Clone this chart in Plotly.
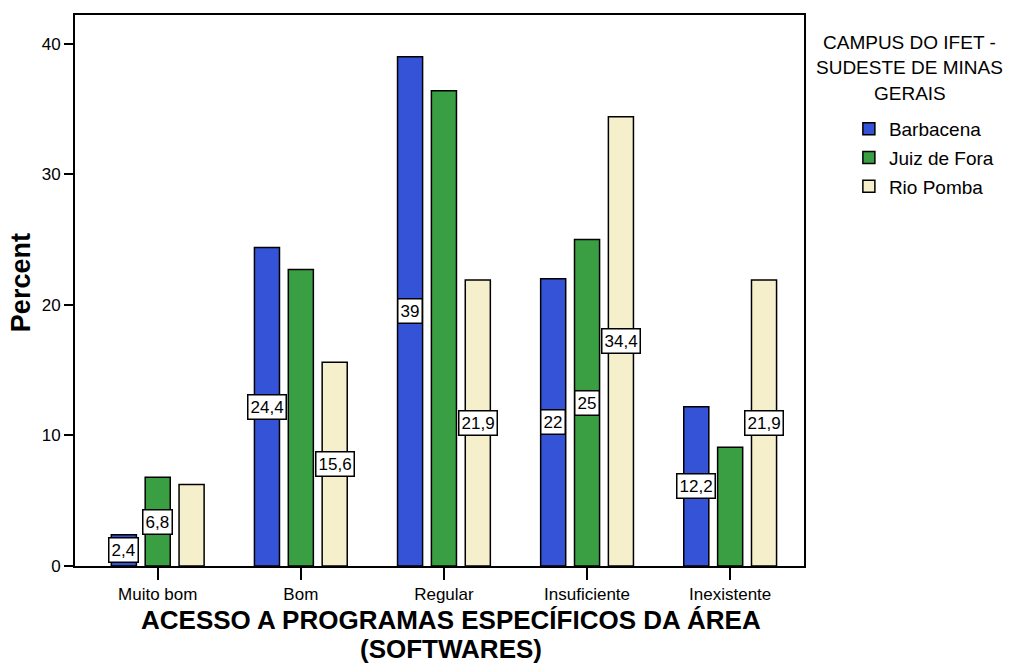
import plotly.graph_objects as go

categories = ["Muito bom", "Bom", "Regular", "Insuficiente", "Inexistente"]
series_names = ["Barbacena", "Juiz de Fora", "Rio Pomba"]
barbacena = [2.4, 24.4, 39.0, 22.0, 12.2]
juiz_de_fora = [6.8, 22.7, 36.4, 25.0, 9.1]
rio_pomba = [6.25, 15.6, 21.9, 34.4, 21.9]
# labels displayed in the reference (None = label hidden)
barbacena_labels = ["2,4", "24,4", "39", "22", "12,2"]
juiz_labels = ["6,8", None, None, "25", None]
rio_labels = [None, "15,6", "21,9", "34,4", "21,9"]
y_ticks = [0, 10, 20, 30, 40]
y_title = "Percent"
legend_title_lines = ["CAMPUS DO IFET -", "SUDESTE DE MINAS", "GERAIS"]
x_title_lines = ["ACESSO A PROGRAMAS ESPECÍFICOS DA ÁREA", "(SOFTWARES)"]

colors = ["#3553d6", "#3a9e42", "#f5f0cb"]
FONT = "Arial, Liberation Sans, sans-serif"
BARGAP = 0.29

# plot-area pixel geometry
L, R, T, B = 75, 806, 15, 566
PW, PH = R - L, B - T

def px_x(x):
    return (x - L) / PW

def px_y(y):
    return (B - y) / PH

fig = go.Figure()
all_vals = [barbacena, juiz_de_fora, rio_pomba]
all_labels = [barbacena_labels, juiz_labels, rio_labels]
for name, vals, col in zip(series_names, all_vals, colors):
    fig.add_trace(go.Bar(
        x=categories, y=vals, name=name, legendgroup=name,
        marker=dict(color=col, line=dict(color="black", width=1.5)),
    ))

slot = (1 - BARGAP) / 3
annotations = []
for si, (vals, labs) in enumerate(zip(all_vals, all_labels)):
    for ci, (v, lab) in enumerate(zip(vals, labs)):
        if lab is None:
            continue
        annotations.append(dict(
            x=ci + (si - 1) * slot, y=v / 2, xref="x", yref="y",
            text=lab, showarrow=False,
            font=dict(family=FONT, size=17, color="black"),
            bgcolor="white", bordercolor="black", borderwidth=1.5, borderpad=2,
        ))

# legend title lines
for i, line in enumerate(legend_title_lines):
    annotations.append(dict(
        x=px_x(912), y=px_y(42 + 26 * i), xref="paper", yref="paper", text=line,
        showarrow=False, font=dict(family=FONT, size=19, color="black"),
        xanchor="center", yanchor="middle",
    ))

# x-axis title lines
for i, line in enumerate(x_title_lines):
    annotations.append(dict(
        x=px_x(452), y=px_y(620 + 29 * i), xref="paper", yref="paper",
        text="<b>" + line + "</b>", showarrow=False,
        font=dict(family=FONT, size=26, color="black"),
        xanchor="center", yanchor="middle",
    ))

# y-axis title
annotations.append(dict(
    x=px_x(21), y=px_y(283), xref="paper", yref="paper",
    text="<b>" + y_title + "</b>", showarrow=False, textangle=-90,
    font=dict(family=FONT, size=27, color="black"),
    xanchor="center", yanchor="middle",
))

fig.update_layout(
    width=1011, height=668,
    margin=dict(l=L, r=1011 - R, t=T, b=668 - B),
    paper_bgcolor="white", plot_bgcolor="white",
    barmode="group", bargap=BARGAP, bargroupgap=0.26,
    font=dict(family=FONT, size=18, color="black"),
    showlegend=True,
    legend=dict(
        x=px_x(851), y=px_y(110), xanchor="left", yanchor="top",
        font=dict(family=FONT, size=19, color="black"),
        traceorder="grouped", tracegroupgap=1,
        bgcolor="rgba(0,0,0,0)",
    ),
    xaxis=dict(
        type="category", range=[-0.578, 4.516],
        showline=True, linecolor="black", linewidth=2, mirror=True,
        ticks="outside", ticklen=12, tickcolor="black", tickwidth=1.5,
        tickfont=dict(family=FONT, size=17),
    ),
    yaxis=dict(
        range=[0, 42.2], tickvals=y_ticks,
        showline=True, linecolor="black", linewidth=2, mirror=True,
        ticks="outside", ticklen=9, tickcolor="black", tickwidth=1.5,
        showgrid=False, zeroline=False,
        tickfont=dict(family=FONT, size=17),
    ),
    annotations=annotations,
)

fig.write_html("out.html")
